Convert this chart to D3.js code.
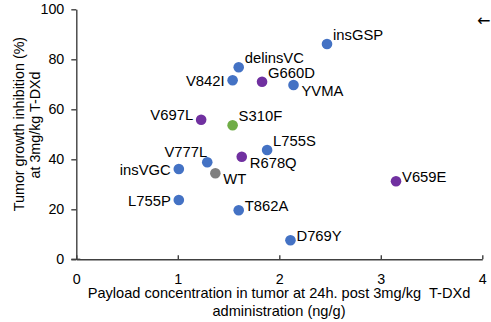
<!DOCTYPE html>
<html>
<head>
<meta charset="utf-8">
<script src="https://cdn.jsdelivr.net/npm/d3@7"></script>
<style>
  body { margin: 0; background: #fff; }
  text { font-family: "Liberation Sans", Arial, sans-serif; fill: #000; }
</style>
</head>
<body>
<div id="chart"></div>
<script>
// HER2 variants: payload concentration vs tumor growth inhibition
var variants = ["insGSP", "delinsVC", "V842I", "G660D", "YVMA", "V697L", "S310F", "L755S",
                "R678Q", "V777L", "insVGC", "WT", "L755P", "T862A", "D769Y", "V659E"];
var payload = [2.47, 1.60, 1.54, 1.83, 2.14, 1.23, 1.54, 1.88,
               1.63, 1.29, 1.01, 1.37, 1.01, 1.60, 2.11, 3.15];
var inhibition = [86.1, 76.8, 71.6, 71.0, 69.7, 55.8, 53.6, 43.7,
                  41.0, 38.8, 36.1, 34.4, 23.7, 19.6, 7.6, 31.2];
var group = ["a", "a", "a", "p", "a", "p", "g", "a",
             "p", "a", "a", "w", "a", "a", "a", "p"];
// where each label sits relative to its dot
var labelSide = ["ur", "ur", "l", "ur", "dr", "ul", "ur", "ur",
                 "dr", "u", "l", "dr", "l", "r", "r", "r"];

var xTicks = [0, 1, 2, 3, 4];
var yTicks = [0, 20, 40, 60, 80, 100];

var width = 491, height = 322;
var margin = {left: 76.3, right: 8.7, top: 9.3, bottom: 62.7};

var color = d3.scaleOrdinal()
    .domain(["a", "p", "g", "w"])
    .range(["#4472C4", "#7030A0", "#70AD47", "#7F7F7F"]);

var place = {
  ur: {dx: 6, dy: -9, anchor: "start"},
  u:  {dx: 0, dy: -10, anchor: "end"},
  ul: {dx: -8, dy: -5, anchor: "end"},
  l:  {dx: -8, dy: 1, anchor: "end"},
  r:  {dx: 6, dy: -4, anchor: "start"},
  dr: {dx: 8, dy: 6, anchor: "start"}
};

var svg = d3.select("#chart").append("svg")
    .attr("width", width)
    .attr("height", height);

var x = d3.scaleLinear().domain([0, 4]).range([margin.left, width - margin.right]);
var y = d3.scaleLinear().domain([0, 100]).range([height - margin.bottom, margin.top]);

var axisColor = "#404040";

var xAxis = svg.append("g")
    .attr("transform", "translate(0," + y(0) + ")")
    .call(d3.axisBottom(x).tickValues(xTicks).tickFormat(d3.format("d"))
      .tickSizeInner(-4).tickSizeOuter(0).tickPadding(10));
var yAxis = svg.append("g")
    .attr("transform", "translate(" + x(0) + ",0)")
    .call(d3.axisLeft(y).tickValues(yTicks).tickFormat(d3.format("d"))
      .tickSize(5).tickSizeOuter(0).tickPadding(7));

[xAxis, yAxis].forEach(function(g) {
  g.select(".domain").attr("stroke", axisColor).attr("stroke-width", 1.4);
  g.selectAll(".tick line").attr("stroke", axisColor).attr("stroke-width", 1.4);
  g.selectAll(".tick text").attr("font-size", 14.3).attr("fill", "#000")
    .style("font-family", "Liberation Sans, Arial, sans-serif");
});
xAxis.selectAll(".tick text").attr("dy", "1em");

// the origin tick crosses the axis
svg.append("line")
    .attr("x1", x(0) - 5).attr("x2", x(0) + 4)
    .attr("y1", y(0)).attr("y2", y(0))
    .attr("stroke", axisColor).attr("stroke-width", 1.4);

var idx = d3.range(variants.length);

svg.selectAll(".dot").data(idx).enter().append("circle")
    .attr("class", "dot")
    .attr("cx", function(i) { return x(payload[i]); })
    .attr("cy", function(i) { return y(inhibition[i]); })
    .attr("r", 5.3)
    .attr("fill", function(i) { return color(group[i]); });

svg.selectAll(".lbl").data(idx).enter().append("text")
    .attr("class", "lbl")
    .attr("x", function(i) { return x(payload[i]) + place[labelSide[i]].dx; })
    .attr("y", function(i) { return y(inhibition[i]) + place[labelSide[i]].dy; })
    .attr("dy", "0.35em")
    .attr("text-anchor", function(i) { return place[labelSide[i]].anchor; })
    .attr("font-size", 14.8)
    .text(function(i) { return variants[i]; });

// axis titles
svg.append("text")
    .attr("text-anchor", "middle")
    .attr("font-size", 14.6)
    .attr("x", 279).attr("y", 293).attr("dy", "0.35em")
    .text("Payload concentration in tumor at 24h. post 3mg/kg  T-DXd")
    .style("white-space", "pre");
svg.append("text")
    .attr("text-anchor", "middle")
    .attr("font-size", 14.6)
    .attr("x", 279).attr("y", 311).attr("dy", "0.35em")
    .text("administration (ng/g)");

svg.append("text")
    .attr("text-anchor", "middle")
    .attr("font-size", 14.3)
    .attr("transform", "translate(18.5,124) rotate(-90)")
    .attr("dy", "0.35em")
    .text("Tumor growth inhibition (%)");
svg.append("text")
    .attr("text-anchor", "middle")
    .attr("font-size", 14.3)
    .attr("transform", "translate(35,125) rotate(-90)")
    .attr("dy", "0.35em")
    .text("at 3mg/kg T-DXd");

svg.append("text")
    .attr("x", 490.5).attr("y", 20.5).attr("dy", "0.35em")
    .attr("text-anchor", "end")
    .attr("font-size", 16)
    .style("font-family", "DejaVu Sans, sans-serif")
    .attr("fill", "#404040")
    .text("←");
</script>
</body>
</html>
